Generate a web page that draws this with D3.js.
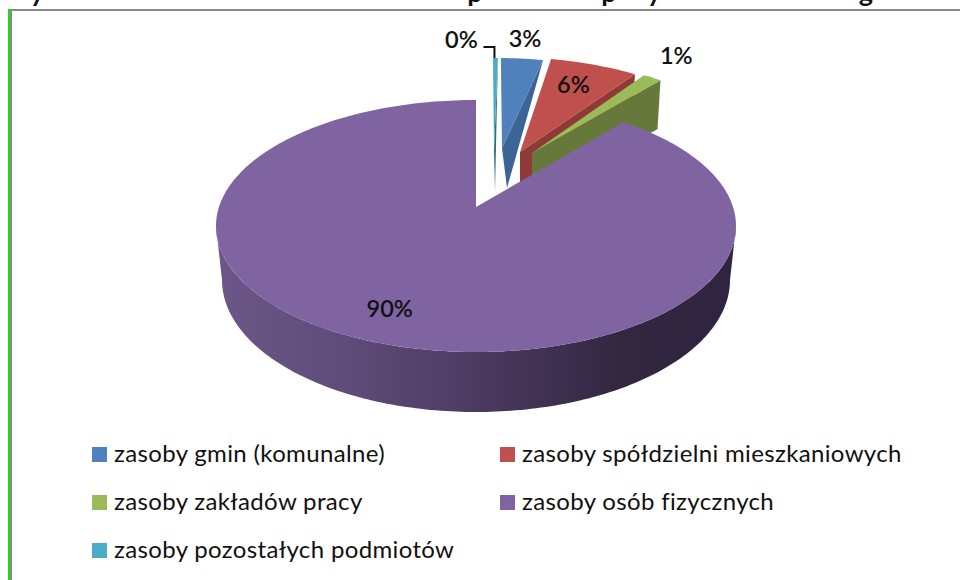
<!DOCTYPE html>
<html>
<head>
<meta charset="utf-8">
<script src="https://cdn.jsdelivr.net/npm/d3@7/dist/d3.min.js"></script>
<style>
  html, body { margin: 0; padding: 0; background: #fff; }
  svg { display: block; }
  text { font-family: Lato, "Open Sans", sans-serif; fill: #111; }
</style>
</head>
<body>
<div id="chart"></div>
<script>
const categories = [
  "zasoby gmin (komunalne)",
  "zasoby spółdzielni mieszkaniowych",
  "zasoby zakładów pracy",
  "zasoby osób fizycznych",
  "zasoby pozostałych podmiotów",
];
const shares = [2.6, 5.5, 1.2, 90.4, 0.3];
const topColors = ["#4f81bd", "#c0504d", "#9bbb59", "#8064a2", "#4bacc6"];
const sideColors = ["#3c6494", "#8e3a37", "#66793b", "#5f4c7d", "#2a6f7f"];
// the title is cut off by the crop of the original, only these descenders show
const titleGlyphs = ["y", "p", "p", "y", "g"];
const titleGlyphX = [37, 475, 609, 654, 866];

const width = 960;
const height = 580;
const rotation = (0.3 / 100) * 2 * Math.PI;

// top face ellipse and the smaller bottom ellipse, the pie is drawn in perspective
const ellipse = {
  cx: d3.scaleLinear().domain([0, 1]).range([476, 476]),
  cy: d3.scaleLinear().domain([0, 1]).range([226, 280]),
  rx: d3.scaleLinear().domain([0, 1]).range([260, 254]),
  ry: d3.scaleLinear().domain([0, 1]).range([126, 132]),
};
const center = [476, 207];

// how far each slice is pulled out, rim and tip move differently in perspective
const explode = [
  { rim: [20, -42], tip: [26, -59], rimDepth: 0, tipDepth: 40, rimShift: 0, tipShift: 5 },
  { rim: [28, -43], tip: [44, -55], rimDepth: 45, tipDepth: 40, rimShift: -3, tipShift: 0 },
  { rim: [37, -42], tip: [56, -54], rimDepth: 49, tipDepth: 40, rimShift: -3, tipShift: 0 },
  { rim: [0, 0], tip: [0, 0], rimDepth: 0, tipDepth: 0, rimShift: 0, tipShift: 0 },
  { rim: [17, -42], tip: [18, -57], rimDepth: 0, tipDepth: 42, rimShift: 0, tipShift: 1 },
];
const labelNudge = [[3, -12], [-21, 28], [24, -14], [-9, -29], [-34, -10]];

const rimPoint = (angle, z = 0) => [
  ellipse.cx(z) + ellipse.rx(z) * Math.sin(angle),
  ellipse.cy(z) - ellipse.ry(z) * Math.cos(angle),
];

const svg = d3.select("#chart").append("svg").attr("width", width).attr("height", height);
const outline = d3.line();

const wallGradient = svg.append("defs").append("linearGradient")
  .attr("id", "wall")
  .attr("gradientUnits", "userSpaceOnUse")
  .attr("x1", 215).attr("x2", 736).attr("y1", 0).attr("y2", 0);
[
  [0, "#6c5788"], [0.25, "#5f4c79"], [0.45, "#4f3e66"], [0.65, "#3e3050"], [0.78, "#33273f"], [1, "#2e2440"],
].forEach(([offset, color]) => {
  wallGradient.append("stop").attr("offset", offset).attr("stop-color", color);
});

// title remains above the frame
svg.append("g")
  .selectAll("text")
  .data(titleGlyphs)
  .join("text")
  .attr("x", (d, i) => titleGlyphX[i])
  .attr("y", 2)
  .attr("text-anchor", "middle")
  .attr("font-size", 27)
  .attr("font-weight", 700)
  .text((d) => d);

// frame
svg.append("line").attr("x1", 8).attr("x2", width).attr("y1", 10).attr("y2", 10)
  .attr("stroke", "#8a8a8a").attr("stroke-width", 2);
svg.append("line").attr("x1", 11).attr("x2", 11).attr("y1", 9).attr("y2", height)
  .attr("stroke", "#8a8a8a").attr("stroke-width", 2);
svg.append("line").attr("x1", 9).attr("x2", 9).attr("y1", 9).attr("y2", height)
  .attr("stroke", "#12e012").attr("stroke-width", 2);

const slices = d3.pie()
  .sort(null)
  .startAngle(rotation)
  .endAngle(rotation + 2 * Math.PI)(shares);

function arcPoints(startAngle, endAngle, z = 0) {
  const steps = Math.max(2, Math.ceil((endAngle - startAngle) / 0.02));
  return d3.range(steps + 1).map((i) => rimPoint(startAngle + ((endAngle - startAngle) * i) / steps, z));
}

function drawSlice(i) {
  const slice = slices[i];
  const ex = explode[i];
  const tip = [center[0] + ex.tip[0], center[1] + ex.tip[1]];
  const rim = arcPoints(slice.startAngle, slice.endAngle).map(([x, y]) => [x + ex.rim[0], y + ex.rim[1]]);
  const rimEnd = rim[rim.length - 1];

  if (ex.tipDepth > 0) {
    svg.append("path")
      .attr("d", outline([
        tip,
        rimEnd,
        [rimEnd[0] + ex.rimShift, rimEnd[1] + ex.rimDepth],
        [tip[0] + ex.tipShift, tip[1] + ex.tipDepth],
      ]) + "Z")
      .attr("fill", sideColors[i]);
  }
  svg.append("path")
    .attr("d", outline([tip, ...rim]) + "Z")
    .attr("fill", topColors[i]);
}

[4, 0, 1, 2].forEach(drawSlice);

// outer wall of the big slice, then its top face
const wallTop = arcPoints(Math.PI / 2, (3 * Math.PI) / 2, 0);
const wallBottom = arcPoints(Math.PI / 2, (3 * Math.PI) / 2, 1).reverse();
svg.append("path")
  .attr("d", outline([...wallTop, ...wallBottom]) + "Z")
  .attr("fill", "url(#wall)");
drawSlice(3);

// data labels
svg.append("g")
  .selectAll("text")
  .data(slices)
  .join("text")
  .attr("x", (d, i) => rimPoint((d.startAngle + d.endAngle) / 2)[0] + explode[i].rim[0] + labelNudge[i][0])
  .attr("y", (d, i) => rimPoint((d.startAngle + d.endAngle) / 2)[1] + explode[i].rim[1] + labelNudge[i][1])
  .attr("text-anchor", "middle")
  .attr("font-size", 23.5)
  .attr("font-weight", 600)
  .text((d) => `${Math.round(d.value)}%`);

// leader from the 0% label down to its slice
const leaderEnd = rimPoint(rotation / 2);
const leaderX = leaderEnd[0] + explode[4].rim[0] - 1;
const leaderY = leaderEnd[1] + explode[4].rim[1];
svg.append("path")
  .attr("d", outline([[leaderX - 11, leaderY - 11], [leaderX, leaderY - 11], [leaderX, leaderY]]))
  .attr("fill", "none")
  .attr("stroke", "#111")
  .attr("stroke-width", 2);

// legend
const legendX = d3.scaleOrdinal().domain([0, 1]).range([92, 500]);
const legendY = d3.scaleLinear().domain([0, 2]).range([447, 543]);
const legend = svg.append("g")
  .selectAll("g")
  .data(categories)
  .join("g")
  .attr("transform", (d, i) => `translate(${legendX(i % 2)}, ${legendY(Math.floor(i / 2))})`);
legend.append("rect")
  .attr("width", 15)
  .attr("height", 15)
  .attr("fill", (d, i) => topColors[i]);
legend.append("text")
  .attr("x", 22)
  .attr("y", 15)
  .attr("font-size", 24)
  .attr("letter-spacing", 0.35)
  .text((d) => d);
</script>
</body>
</html>
